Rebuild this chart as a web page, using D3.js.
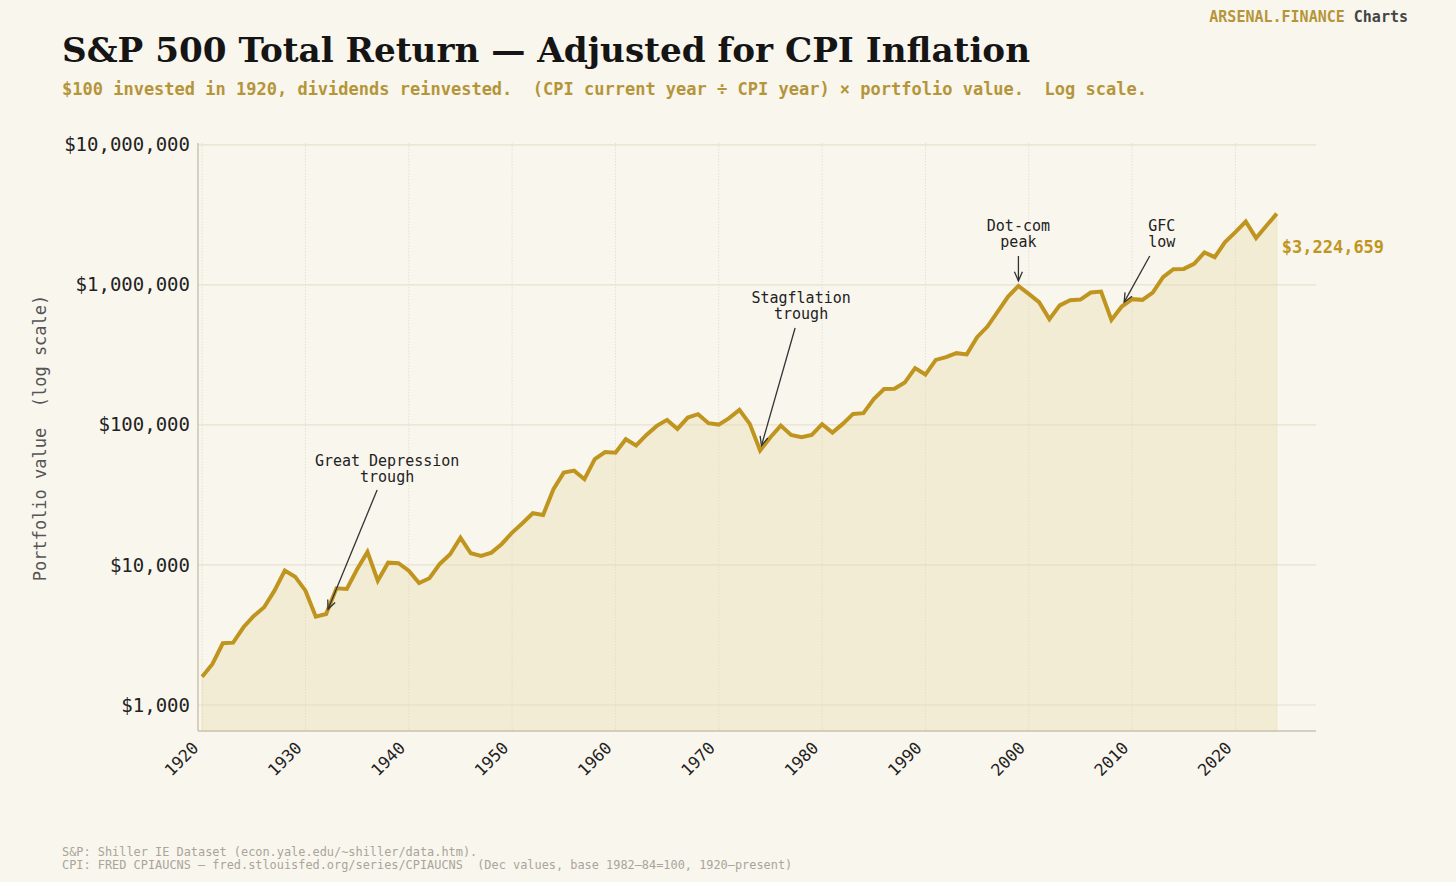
<!DOCTYPE html>
<html>
<head>
<meta charset="utf-8">
<script src="https://cdn.jsdelivr.net/npm/d3@7"></script>
<style>
  html, body { margin: 0; padding: 0; background: #f9f6ee; }
  svg { display: block; }
</style>
</head>
<body>
<svg id="chart" width="1456" height="882"></svg>
<script>
// ---- DATA ----
const years = d3.range(1920, 2025);
const values = [
  1593, 1963, 2759, 2786, 3589, 4322, 4987, 6553, 9105, 8249,
  6553, 4272, 4467, 6818, 6740, 9318, 12385, 7725, 10385, 10283,
  9105, 7437, 8035, 10165, 11923, 15668, 12122, 11597, 12240, 14125,
  17010, 19860, 23410, 22750, 34730, 45630, 47150, 40950, 56890, 63930,
  63300, 79060, 71380, 84840, 98370, 108600, 93640, 112760, 119240, 102830,
  100500, 111660, 127970, 101650, 65750, 81700, 98860, 84840, 81700, 84840,
  101150, 88100, 101650, 119840, 121230, 152900, 180200, 181400, 200500, 254100,
  228800, 291200, 304500, 325200, 318800, 423100, 503700, 644800, 824900, 983700,
  862400, 752100, 568900, 713800, 777600, 785300, 881000, 895600, 562300, 699800,
  790600, 781500, 881000, 1135000, 1294700, 1300000, 1412500, 1701000, 1577000, 2018000,
  2378000, 2832000, 2156000, 2639000, 3224659
];
const yTicks = [1e3, 1e4, 1e5, 1e6, 1e7];
const yTickLabels = ["$1,000", "$10,000", "$100,000", "$1,000,000", "$10,000,000"];
const xTicks = [1920, 1930, 1940, 1950, 1960, 1970, 1980, 1990, 2000, 2010, 2020];
const annotations = [
  { year: 1932, lines: ["Great Depression", "trough"] },
  { year: 1974, lines: ["Stagflation", "trough"] },
  { year: 1999, lines: ["Dot-com", "peak"] },
  { year: 2009, lines: ["GFC", "low"] }
];
const finalLabel = "$3,224,659";

// ---- LAYOUT ----
const svg = d3.select("#chart");
const W = 1456, H = 882;
const plot = { left: 198, right: 1316, top: 143, bottom: 731 };
const gold = "#c0951f";
const mono = "'DejaVu Sans Mono', monospace";

const x = d3.scaleLinear().domain([1919.6, 2027.8]).range([plot.left, plot.right]);
const y = d3.scaleLog().domain([652, 10.3e6]).range([plot.bottom, plot.top]);

const data = years.map((yr, i) => ({ year: yr, value: values[i] }));

svg.append("rect").attr("width", W).attr("height", H).attr("fill", "#f9f6ee");

// grid
const g = svg.append("g");
g.selectAll(".vgrid").data(xTicks).enter().append("line")
  .attr("x1", d => x(d)).attr("x2", d => x(d))
  .attr("y1", plot.top).attr("y2", plot.bottom)
  .attr("stroke", "#e6e0d0").attr("stroke-width", 1).attr("stroke-dasharray", "1.5,1.5");
g.selectAll(".hgrid").data(yTicks).enter().append("line")
  .attr("x1", plot.left).attr("x2", plot.right)
  .attr("y1", d => y(d)).attr("y2", d => y(d))
  .attr("stroke", "#e7e0cd").attr("stroke-width", 1.2);

// area
const area = d3.area().x(d => x(d.year)).y0(plot.bottom).y1(d => y(d.value));
g.append("path").datum(data).attr("d", area)
  .attr("fill", "#e9d9a6").attr("fill-opacity", 0.35)
  .attr("stroke", "#e9d9a6").attr("stroke-opacity", 0.5).attr("stroke-width", 1);

// line
const line = d3.line().x(d => x(d.year)).y(d => y(d.value));
g.append("path").datum(data).attr("d", line)
  .attr("fill", "none").attr("stroke", gold).attr("stroke-width", 4)
  .attr("stroke-linejoin", "miter").attr("stroke-linecap", "butt");

// spines
svg.append("line").attr("x1", plot.left).attr("x2", plot.left)
  .attr("y1", plot.top).attr("y2", plot.bottom)
  .attr("stroke", "#cbc3b1").attr("stroke-width", 1.5);
svg.append("line").attr("x1", plot.left).attr("x2", plot.right)
  .attr("y1", plot.bottom).attr("y2", plot.bottom)
  .attr("stroke", "#cbc3b1").attr("stroke-width", 1.5);

// y axis
const yAxis = d3.axisLeft(y).tickValues(yTicks)
  .tickFormat((d, i) => yTickLabels[i]).tickSize(0).tickPadding(8);
const ya = svg.append("g").attr("transform", `translate(${plot.left},0)`).call(yAxis);
ya.select(".domain").remove();
ya.selectAll("text").attr("font-family", mono).attr("font-size", 19).attr("fill", "#222");

// x axis
const xAxis = d3.axisBottom(x).tickValues(xTicks).tickFormat(d => String(d)).tickSize(0).tickPadding(0);
const xa = svg.append("g").attr("transform", `translate(0,${plot.bottom})`).call(xAxis);
xa.select(".domain").remove();
xa.selectAll("text")
  .attr("font-family", mono).attr("font-size", 16.5).attr("fill", "#222")
  .attr("text-anchor", "end").attr("dy", null).attr("y", 0)
  .attr("transform", "translate(-7,14) rotate(-45)")
  .attr("dominant-baseline", "central");

// y label
svg.append("text")
  .attr("transform", "translate(46,438) rotate(-90)")
  .attr("text-anchor", "middle").attr("font-family", mono).attr("font-size", 17)
  .attr("fill", "#555").attr("xml:space", "preserve")
  .text("Portfolio value  (log scale)");

// title
svg.append("text").attr("x", 62).attr("y", 62)
  .attr("font-family", "'DejaVu Serif', serif").attr("font-weight", "bold")
  .attr("font-size", 34.2).attr("fill", "#151515")
  .text("S&P 500 Total Return — Adjusted for CPI Inflation");
svg.append("text").attr("x", 62).attr("y", 95)
  .attr("font-family", mono).attr("font-weight", "bold").attr("font-size", 17)
  .attr("fill", "#b5953a").attr("xml:space", "preserve")
  .text("$100 invested in 1920, dividends reinvested.  (CPI current year ÷ CPI year) × portfolio value.  Log scale.");

// brand
const brand = svg.append("text").attr("x", 1408).attr("y", 22).attr("text-anchor", "end")
  .attr("font-family", mono).attr("font-weight", "bold").attr("font-size", 15).attr("xml:space", "preserve");
brand.append("tspan").attr("fill", "#b5953a").text("ARSENAL.FINANCE ");
brand.append("tspan").attr("fill", "#444").text("Charts");

// annotations
const defs = svg.append("defs");
defs.append("marker").attr("id", "arrow").attr("viewBox", "-10 -6 12 12")
  .attr("refX", 0).attr("refY", 0).attr("markerWidth", 12).attr("markerHeight", 12)
  .attr("markerUnits", "userSpaceOnUse").attr("orient", "auto")
  .append("path").attr("d", "M-9,-4 L0,0 L-9,4").attr("fill", "none")
  .attr("stroke", "#333").attr("stroke-width", 1.3);

// text offsets relative to the annotated point (layout only)
const annLayout = {
  1932: { dx: 61, textY: 466, tailDy: 490, tailShift: 10 },
  1974: { dx: 41, textY: 303, tailDy: 328, tailShift: 6 },
  1999: { dx: 0, textY: 231, tailDy: 256, tailShift: 0 },
  2009: { dx: 40, textY: 231, tailDy: 256, tailShift: 12 }
};
annotations.forEach(a => {
  const d = data.find(p => p.year === a.year);
  const px = x(d.year), py = y(d.value);
  const L = annLayout[a.year];
  const tx = px + L.dx;
  const t = svg.append("text").attr("text-anchor", "middle")
    .attr("font-family", mono).attr("font-size", 15).attr("fill", "#222");
  a.lines.forEach((s, i) => t.append("tspan").attr("x", tx).attr("y", L.textY + i * 16).text(s));
  const tailX = tx - L.tailShift;
  const tailY = L.tailDy;
  const dxv = px - tailX, dyv = py - tailY;
  const len = Math.hypot(dxv, dyv);
  const shrink = 5;
  svg.append("line").attr("x1", tailX).attr("y1", tailY)
    .attr("x2", px - dxv / len * shrink).attr("y2", py - dyv / len * shrink)
    .attr("stroke", "#333").attr("stroke-width", 1.3).attr("marker-end", "url(#arrow)");
});

// final value label
const last = data[data.length - 1];
svg.append("text").attr("x", x(last.year) + 5).attr("y", y(last.value) + 39)
  .attr("font-family", mono).attr("font-weight", "bold").attr("font-size", 17)
  .attr("fill", "#c0951f").text(finalLabel);

// footer
svg.append("text").attr("x", 62).attr("y", 856)
  .attr("font-family", mono).attr("font-size", 11.9).attr("fill", "#aaa49a")
  .text("S&P: Shiller IE Dataset (econ.yale.edu/~shiller/data.htm).");
svg.append("text").attr("x", 62).attr("y", 869)
  .attr("font-family", mono).attr("font-size", 11.9).attr("fill", "#aaa49a").attr("xml:space", "preserve")
  .text("CPI: FRED CPIAUCNS — fred.stlouisfed.org/series/CPIAUCNS  (Dec values, base 1982–84=100, 1920–present)");
</script>
</body>
</html>
